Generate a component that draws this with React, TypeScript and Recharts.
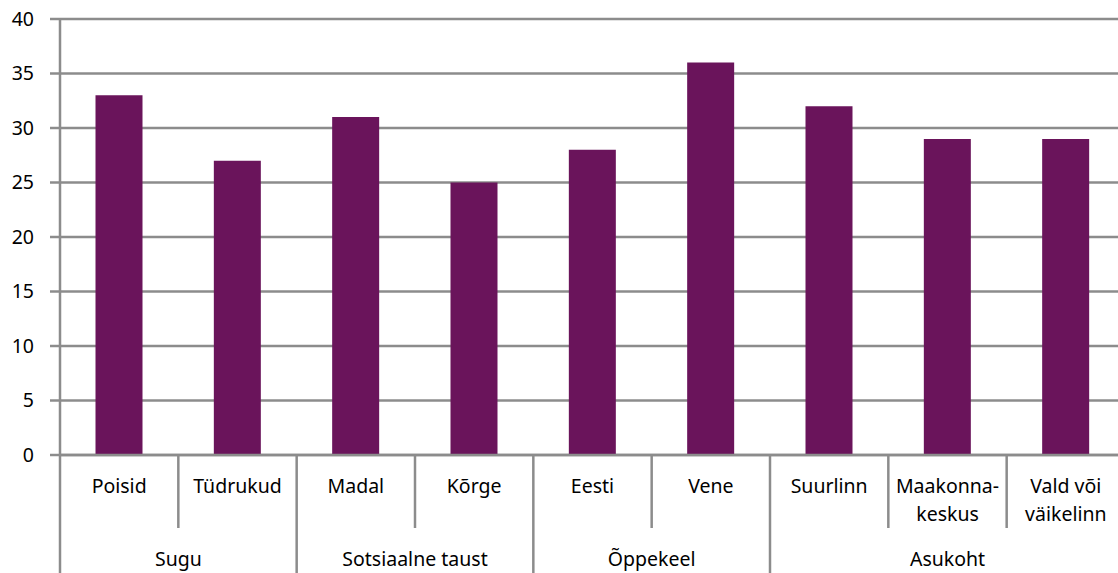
import React from "react";
import { BarChart, Bar, XAxis, YAxis, CartesianGrid } from "recharts";

const categories = [
  "Poisid",
  "Tüdrukud",
  "Madal",
  "Kõrge",
  "Eesti",
  "Vene",
  "Suurlinn",
  "Maakonna-\nkeskus",
  "Vald või\nväikelinn",
];
const values = [33, 27, 31, 25, 28, 36, 32, 29, 29];
const groups = ["Sugu", "Sotsiaalne taust", "Õppekeel", "Asukoht"];
const groupSizes = [2, 2, 2, 3];
const yTicks = [0, 5, 10, 15, 20, 25, 30, 35, 40];

const data = categories.map((c, i) => ({ cat: c, value: values[i] }));

const groupStarts: Record<number, number> = {};
{
  let acc = 0;
  groups.forEach((_, gi) => {
    groupStarts[acc] = gi;
    acc += groupSizes[gi];
  });
}

const FONT = "'Noto Sans', 'DejaVu Sans', sans-serif";
const GRID = "#8c8c8c";
const AXIS_H = 118;
const FS = 19.5;

const CategoryTick = (props: any) => {
  const { x, y, payload, index } = props;
  const half = payload && typeof payload.offset === "number" && payload.offset > 0 ? payload.offset : 59;
  const left = x - half;
  const lines = String(payload.value).split("\n");
  const gi = groupStarts[index];
  const isStart = gi !== undefined;
  return (
    <g>
      <line
        x1={left}
        x2={left}
        y1={y}
        y2={isStart ? y + AXIS_H : y + 73}
        stroke={GRID}
        strokeWidth={2.5}
      />
      {lines.map((ln, li) => (
        <text
          key={li}
          x={x}
          y={y + 38 + li * 28}
          textAnchor="middle"
          fontFamily={FONT}
          fontSize={FS}
          fill="#000"
        >
          {ln}
        </text>
      ))}
      {isStart && (
        <text
          x={left + groupSizes[gi] * half}
          y={y + 111}
          textAnchor="middle"
          fontFamily={FONT}
          fontSize={FS}
          fill="#000"
        >
          {groups[gi]}
        </text>
      )}
    </g>
  );
};

export default function App() {
  return (
    <div
      style={{
        position: "absolute",
        left: 0,
        top: 0,
        width: 1118,
        height: 573,
        overflow: "hidden",
        background: "#fff",
      }}
    >
      <BarChart
        width={1125}
        height={573}
        data={data}
        margin={{ top: 19, right: 0, bottom: 0, left: 0 }}
        barCategoryGap="30%"
      >
        <CartesianGrid vertical={false} stroke={GRID} strokeWidth={2.5} />
        <XAxis
          dataKey="cat"
          interval={0}
          height={AXIS_H}
          tickSize={0}
          tickMargin={0}
          tickLine={false}
          axisLine={{ stroke: GRID, strokeWidth: 2.5 }}
          tick={<CategoryTick />}
        />
        <YAxis
          width={60}
          domain={[0, 40]}
          ticks={yTicks}
          interval={0}
          tickSize={10}
          tickMargin={16}
          tickLine={{ stroke: GRID, strokeWidth: 2.5 }}
          axisLine={{ stroke: GRID, strokeWidth: 2.5 }}
          tick={{ fontFamily: FONT, fontSize: FS, fill: "#000" }}
        />
        <Bar dataKey="value" fill="#6a145b" isAnimationActive={false} />
      </BarChart>
    </div>
  );
}
